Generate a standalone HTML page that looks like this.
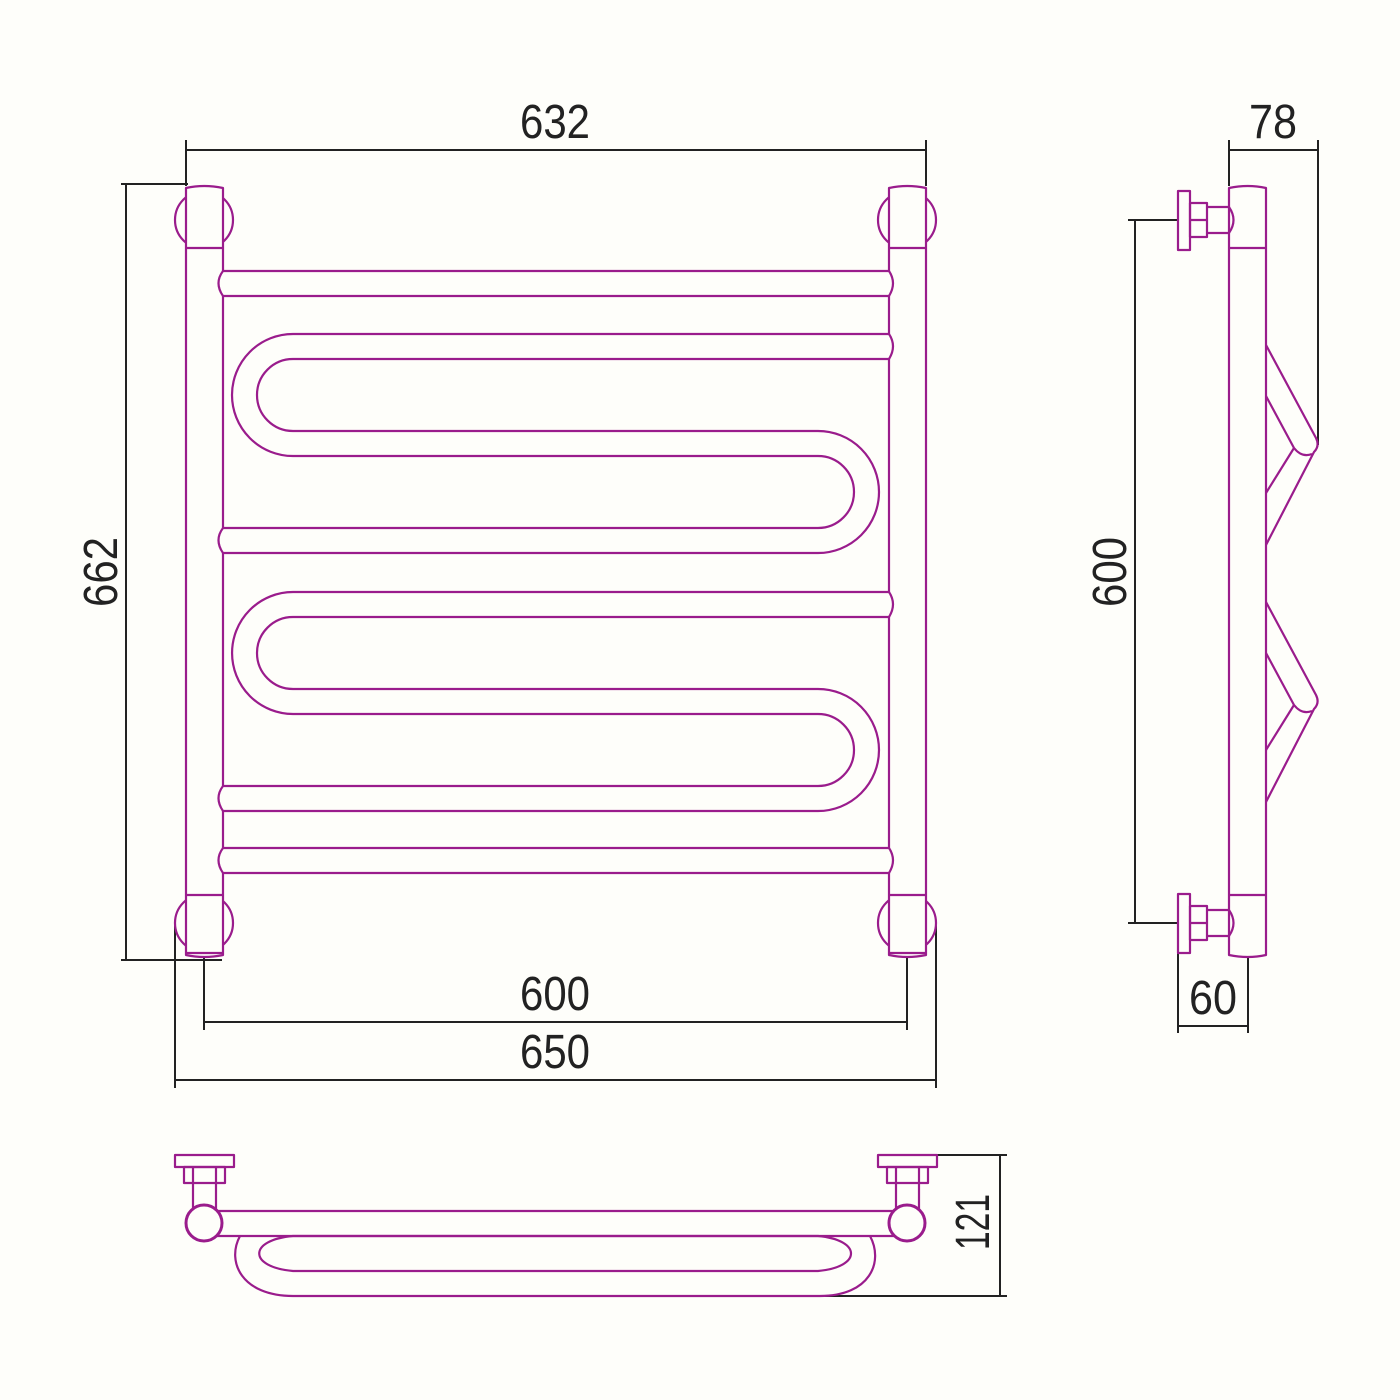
<!DOCTYPE html>
<html><head><meta charset="utf-8"><style>
html,body{margin:0;padding:0;background:#fefefa;}
svg{display:block}
text{font-family:"Liberation Sans",sans-serif;fill:#222;}
</style></head><body>
<svg width="1400" height="1400" viewBox="0 0 1400 1400" xmlns="http://www.w3.org/2000/svg">
<rect width="1400" height="1400" fill="#fefefa"/>
<!-- dimension lines -->
<g stroke="#222" stroke-width="2" fill="none">
<!-- 632 -->
<line x1="186" y1="150" x2="926" y2="150"/>
<line x1="186" y1="140" x2="186" y2="186"/>
<line x1="926" y1="140" x2="926" y2="186"/>
<!-- 662 -->
<line x1="126" y1="184" x2="126" y2="960"/>
<line x1="121" y1="184" x2="188" y2="184"/>
<line x1="121" y1="960" x2="222" y2="960"/>
<!-- 600 bottom -->
<line x1="204" y1="1022" x2="907" y2="1022"/>
<line x1="204" y1="957" x2="204" y2="1030"/>
<line x1="907" y1="957" x2="907" y2="1030"/>
<!-- 650 -->
<line x1="175" y1="1080" x2="936" y2="1080"/>
<line x1="175" y1="923" x2="175" y2="1088"/>
<line x1="936" y1="923" x2="936" y2="1088"/>
<!-- side 600 -->
<line x1="1135" y1="220" x2="1135" y2="923"/>
<line x1="1128" y1="220" x2="1178" y2="220"/>
<line x1="1128" y1="923" x2="1178" y2="923"/>
<!-- 78 -->
<line x1="1229" y1="150" x2="1318" y2="150"/>
<line x1="1229" y1="140" x2="1229" y2="186"/>
<line x1="1318" y1="140" x2="1318" y2="445"/>
<!-- 60 -->
<line x1="1178" y1="1026" x2="1248" y2="1026"/>
<line x1="1178" y1="953" x2="1178" y2="1033"/>
<line x1="1248" y1="957" x2="1248" y2="1033"/>
<!-- 121 -->
<line x1="1000" y1="1155" x2="1000" y2="1296"/>
<line x1="937" y1="1155" x2="1007" y2="1155"/>
<line x1="820" y1="1296" x2="1007" y2="1296"/>
</g>
<g font-size="48">
<text x="520" y="138" textLength="70" lengthAdjust="spacingAndGlyphs">632</text>
<text x="520" y="1010" textLength="70" lengthAdjust="spacingAndGlyphs">600</text>
<text x="520" y="1068" textLength="70" lengthAdjust="spacingAndGlyphs">650</text>
<text x="1249" y="138" textLength="48" lengthAdjust="spacingAndGlyphs">78</text>
<text x="1189" y="1014" textLength="48" lengthAdjust="spacingAndGlyphs">60</text>
<text transform="translate(117,607) rotate(-90)" textLength="70" lengthAdjust="spacingAndGlyphs">662</text>
<text transform="translate(1126,607) rotate(-90)" textLength="70" lengthAdjust="spacingAndGlyphs">600</text>
<text transform="translate(989,1250) rotate(-90)" textLength="56" lengthAdjust="spacingAndGlyphs">121</text>
</g>

<g stroke="#9a1c8c" stroke-width="2.2" fill="none" stroke-linejoin="round">
<!-- front: wall circles -->
<circle cx="204" cy="220" r="29"/>
<circle cx="907" cy="220" r="29"/>
<circle cx="204" cy="923" r="29"/>
<circle cx="907" cy="923" r="29"/>
<!-- posts -->
<path d="M186,188 Q204,184 223,188 L223,955 Q204,959 186,955 Z" fill="#fefefa"/>
<path d="M889,188 Q907,184 926,188 L926,955 Q907,959 889,955 Z" fill="#fefefa"/>
<line x1="186" y1="248" x2="223" y2="248"/>
<line x1="186" y1="895" x2="223" y2="895"/>
<line x1="889" y1="248" x2="926" y2="248"/>
<line x1="889" y1="895" x2="926" y2="895"/>
<line x1="186" y1="953" x2="223" y2="953"/>
<line x1="889" y1="953" x2="926" y2="953"/>
<!-- bars -->
<path d="M223,271 L889,271 Q897,283 889,296 L223,296 Q214,283 223,271 Z" fill="#fefefa"/>
<path d="M223,848 L889,848 Q897,860 889,873 L223,873 Q214,860 223,848 Z" fill="#fefefa"/>
<!-- serpentine 1 -->
<path d="M889,334 L293,334 A61,61 0 0 0 293,456 L818,456 A36,36 0 0 1 818,528 L223,528 Q214,540 223,553 L818,553 A61,61 0 0 0 818,431 L293,431 A36,36 0 0 1 293,359 L889,359 Q897,346 889,334 Z" fill="#fefefa"/>
<!-- serpentine 2 -->
<path d="M889,592 L293,592 A61,61 0 0 0 293,714 L818,714 A36,36 0 0 1 818,786 L223,786 Q214,798 223,811 L818,811 A61,61 0 0 0 818,689 L293,689 A36,36 0 0 1 293,617 L889,617 Q897,604 889,592 Z" fill="#fefefa"/>

<!-- side view -->
<path d="M1229,188 Q1248,184 1266,188 L1266,955 Q1248,959 1229,955 Z"/>
<line x1="1229" y1="248" x2="1266" y2="248"/>
<line x1="1229" y1="895" x2="1266" y2="895"/>
<rect x="1178" y="191" width="12" height="59"/>
<rect x="1190" y="203" width="17" height="34"/>
<line x1="1190" y1="220" x2="1207" y2="220"/>
<path d="M1207,207 L1229,207 Q1238,220 1229,233 L1207,233"/>
<rect x="1178" y="894" width="12" height="59"/>
<rect x="1190" y="906" width="17" height="34"/>
<line x1="1190" y1="923" x2="1207" y2="923"/>
<path d="M1207,910 L1229,910 Q1238,923 1229,936 L1207,936"/>
<!-- zigzags -->
<path d="M1266,345 L1316,438 Q1320,446 1314,452 L1266,545"/>
<path d="M1266,396 L1294,448 Q1302,458 1312,454"/>
<path d="M1294,448 L1266,493"/>
<path d="M1266,602 L1316,695 Q1320,703 1314,709 L1266,802"/>
<path d="M1266,653 L1294,705 Q1302,715 1312,711"/>
<path d="M1294,705 L1266,750"/>

<!-- top view -->
<path d="M240,1236 C226,1262 242,1296 293,1296 L820,1296 C870,1296 884,1262 870,1236"/>
<path d="M293,1236 L818,1236 C862,1240 862,1267 818,1271 L293,1271 C248,1267 248,1240 293,1236 Z"/>
<line x1="204" y1="1211" x2="907" y2="1211"/>
<line x1="204" y1="1236" x2="907" y2="1236"/>
<rect x="175" y="1155" width="59" height="12" fill="#fefefa"/>
<rect x="184" y="1167" width="41" height="16"/>
<line x1="193" y1="1167" x2="193" y2="1183"/>
<line x1="216" y1="1167" x2="216" y2="1183"/>
<path d="M193,1183 L193,1210 M216,1183 L216,1210"/>
<circle cx="204" cy="1223" r="18" fill="#fefefa" stroke-width="3"/>
<rect x="878" y="1155" width="59" height="12" fill="#fefefa"/>
<rect x="887" y="1167" width="41" height="16"/>
<line x1="896" y1="1167" x2="896" y2="1183"/>
<line x1="919" y1="1167" x2="919" y2="1183"/>
<path d="M896,1183 L896,1210 M919,1183 L919,1210"/>
<circle cx="907" cy="1223" r="18" fill="#fefefa" stroke-width="3"/>
</g>
</svg>
</body></html>
